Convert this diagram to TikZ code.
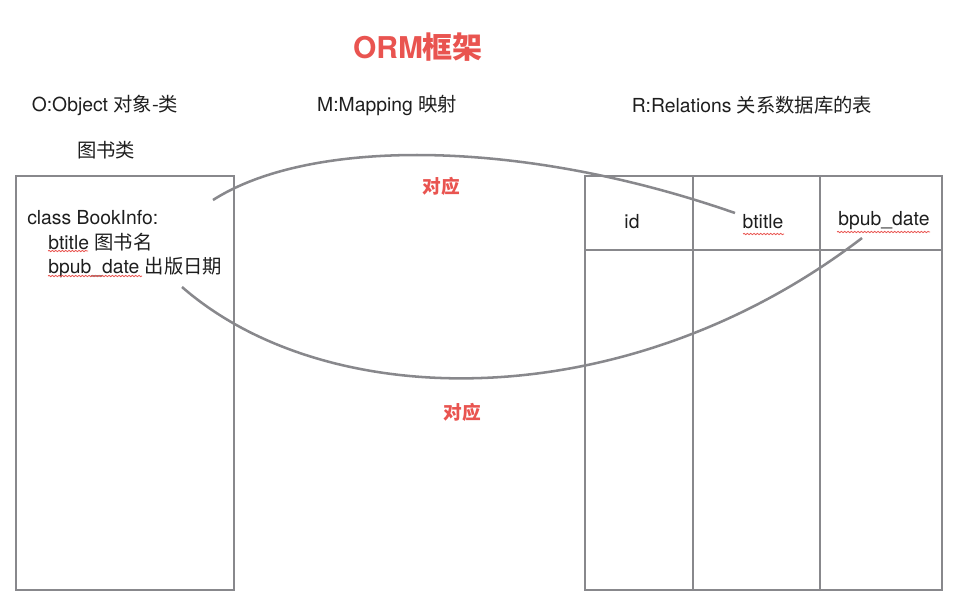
\documentclass[tikz,border=0pt]{standalone}
\usepackage{fontspec}
\setmainfont{TeX Gyre Heros}
\newfontfamily\cjk{Noto Sans CJK SC}
\definecolor{linegray}{RGB}{136,136,140}
\definecolor{ormred}{RGB}{233,84,80}
\definecolor{txt}{RGB}{30,30,30}
\usetikzlibrary{decorations.pathmorphing}

\def\L{585}
\def\R{942}
\def\T{176}
\def\B{590}

\begin{document}
\begin{tikzpicture}[x=0.75pt,y=-0.75pt,
    every node/.style={inner sep=0pt,text=txt,font=\fontsize{14.5}{17}\selectfont},
    boxtext/.style={anchor=west},
    frame/.style={draw=linegray,line width=1.9pt},
    link/.style={draw=linegray,line width=1.9pt},
    hint/.style={text=ormred,font=\fontsize{14}{17}\selectfont\cjk\bfseries},
    spell/.style={draw=ormred,line width=0.6pt,decorate,
      decoration={snake,amplitude=0.5pt,segment length=2.5pt}}]
  \useasboundingbox (0,0) rectangle (958,608);

  % title and headings
  \node (T) at (418,47) {\fontsize{22.5}{26}\selectfont\bfseries\color{ormred}ORM\cjk 框架};
  \node (O) at (105,105) {O:Object {\cjk 对象-类}};
  \node (M) at (387,105) {M:Mapping {\cjk 映射}};
  \node (R) at (752,105) {R:Relations {\cjk 关系数据库的表}};
  \node (C) at (106,150) {\cjk 图书类};

  % class box
  \draw[frame] (16,\T) rectangle (234,\B);
  \node[boxtext] (cls) at (27,218) {class BookInfo:};
  \node[boxtext] (bt) at (48,242) {btitle {\cjk 图书名}};
  \node[boxtext] (bp) at (48,267) {bpub\_date {\cjk 出版日期}};

  % table
  \draw[frame] (\L,\T) rectangle (\R,\B);
  \draw[frame] (693,\T) -- (693,\B);
  \draw[frame] (820,\T) -- (820,\B);
  \draw[frame] (\L,250) -- (\R,250);
  \node (id) at (632,222) {id};
  \node (tt) at (763,222) {btitle};
  \node (td) at (884,221) {bpub\_date};

  % spell marks
  \draw[spell] (48,251) -- (88,251);
  \draw[spell] (48,276) -- (142,276);
  \draw[spell] (743,234) -- (784,234);
  \draw[spell] (837,232) -- (930,232);

  % mapping curves
  \coordinate (a1) at (213,200);
  \coordinate (a2) at (735,213);
  \coordinate (b1) at (182,287);
  \coordinate (b2) at (862,238);
  \draw[link] (a1) .. controls (310,138) and (520,138) .. (a2);
  \draw[link] (b1) .. controls (330,416) and (630,416) .. (b2);
  \node[hint] (h1) at (441,186) {对应};
  \node[hint] (h2) at (462,412) {对应};
\end{tikzpicture}
\end{document}
